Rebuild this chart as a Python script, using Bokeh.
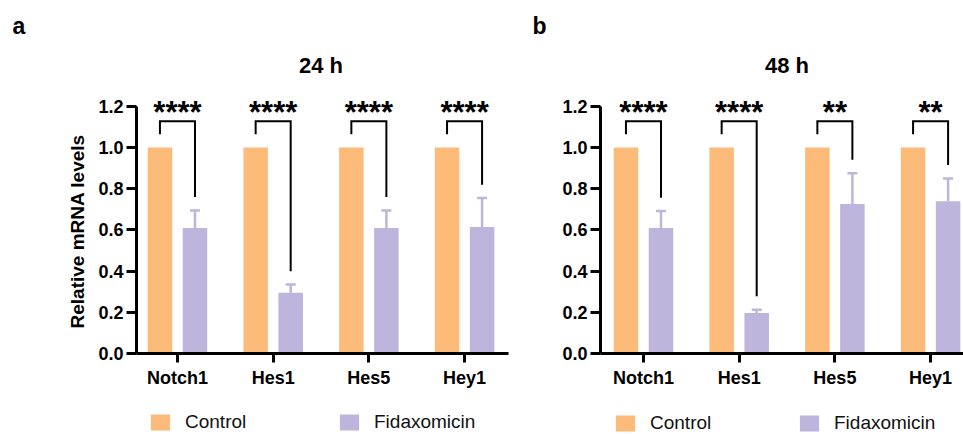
from bokeh.plotting import figure
from bokeh.models import (Range1d, FixedTicker, Legend, LegendItem, Whisker, Title,
                          TeeHead, ColumnDataSource, NumeralTickFormatter)
from bokeh.layouts import row, column
from bokeh.core.properties import value
from bokeh.embed import file_html
from bokeh.resources import INLINE

# ---------------- data ----------------
genes = ["Notch1", "Hes1", "Hes5", "Hey1"]
y_ticks = [0.0, 0.2, 0.4, 0.6, 0.8, 1.0, 1.2]
series_names = ["Control", "Fidaxomicin"]

ctrl_24 = [1.0, 1.0, 1.0, 1.0]
fida_24 = [0.61, 0.295, 0.61, 0.615]
fida_24_err = [0.085, 0.04, 0.085, 0.14]
sig_24 = ["****", "****", "****", "****"]

ctrl_48 = [1.0, 1.0, 1.0, 1.0]
fida_48 = [0.61, 0.197, 0.726, 0.74]
fida_48_err = [0.082, 0.016, 0.15, 0.11]
sig_48 = ["****", "****", "**", "**"]

# ---------------- style ----------------
CTRL = "#FDBB79"
LAV = "#BDB5DB"
FONT = "Liberation Sans"
H_MAIN = 405
H_LEG = 29
YMAX = 1.496
OFF = 0.183
BW = 0.256
BRACKET_Y = 1.128
GAP = 0.065
AST_Y = 1.173
TITLE_Y = 1.399


def make_panel(width, bl, br, xr, ctrl, fida, err, sig, title, letter, letter_off,
               with_ylabel):
    p = figure(width=width, height=H_MAIN, x_range=Range1d(*xr), y_range=Range1d(0, YMAX),
               output_backend="svg", toolbar_location=None,
               min_border_left=bl, min_border_right=br, min_border_top=45,
               min_border_bottom=52)
    p.outline_line_color = None
    p.grid.visible = False
    p.background_fill_color = "white"
    p.border_fill_color = "white"

    n = len(genes)
    xc = [i - OFF for i in range(n)]
    xf = [i + OFF for i in range(n)]
    top = [f + e for f, e in zip(fida, err)]
    src = ColumnDataSource(dict(xc=xc, xf=xf, ctrl=ctrl, fida=fida, top=top))

    p.vbar(x="xc", top="ctrl", width=BW, source=src, fill_color=CTRL, line_color=None)
    p.vbar(x="xf", top="fida", width=BW, source=src, fill_color=LAV, line_color=None)

    wh = Whisker(source=src, base="xf", upper="top", lower="fida", dimension="height",
                 line_color=LAV, line_width=2.5, lower_head=None,
                 upper_head=TeeHead(size=10, line_color=LAV, line_width=2.5))
    p.add_layout(wh)

    bxs = [[a, a, b, b] for a, b in zip(xc, xf)]
    bys = [[c + GAP, BRACKET_Y, BRACKET_Y, t + GAP] for c, t in zip(ctrl, top)]
    p.multi_line(xs=bxs, ys=bys, line_color="black", line_width=2, line_join="miter")

    p.text(x=list(range(n)), y=[AST_Y] * n, text=sig, text_align="center",
           text_baseline="middle", text_font=value(FONT), text_font_style="bold",
           text_font_size="31px", text_color="black")

    p.text(x=[1.5], y=[TITLE_Y], text=[title], text_align="center",
           text_baseline="middle", text_font=value(FONT), text_font_style="bold",
           text_font_size="22px", text_color="black")

    p.add_layout(Title(text=letter, align="left", offset=letter_off, vertical_align="bottom",
                       standoff=14, text_font=FONT, text_font_style="bold",
                       text_font_size="23px", text_color="black"), "above")

    for ax in (p.xaxis[0], p.yaxis[0]):
        ax.axis_line_width = 3
        ax.axis_line_color = "black"
        ax.major_tick_line_width = 3
        ax.major_tick_line_color = "black"
        ax.major_tick_in = 0
        ax.minor_tick_line_color = None
        ax.major_label_text_font = FONT
        ax.major_label_text_font_style = "bold"
        ax.major_label_text_font_size = "18px"
        ax.major_label_text_color = "black"

    p.xaxis.ticker = FixedTicker(ticks=list(range(n)))
    p.xaxis.major_label_overrides = {i: g for i, g in enumerate(genes)}
    p.xaxis.major_tick_out = 9
    p.xaxis.major_label_standoff = 5

    p.yaxis.ticker = FixedTicker(ticks=y_ticks)
    p.yaxis.formatter = NumeralTickFormatter(format="0.0")
    p.yaxis.bounds = (0, 1.2)
    p.yaxis.major_tick_out = 10
    p.yaxis.major_label_standoff = 3

    if with_ylabel:
        p.add_layout(Title(text="Relative mRNA levels", align="left", offset=25,
                           vertical_align="bottom", standoff=16, text_font=FONT,
                           text_font_style="bold", text_font_size="19px",
                           text_color="black"), "left")
    return p


def make_legend(width, loc, label_width):
    q = figure(width=width, height=H_LEG, x_range=Range1d(0, 1), y_range=Range1d(0, 1),
               output_backend="svg", toolbar_location=None,
               x_axis_location=None, y_axis_location=None,
               min_border=0, min_border_left=0, min_border_right=0,
               min_border_top=0, min_border_bottom=0)
    q.outline_line_color = None
    q.grid.visible = False
    # legend proxies: one zero-height bar each, placed outside the visible range
    r_c = q.vbar(x=[-5], top=[0], width=0.1, fill_color=CTRL, line_color=None)
    r_f = q.vbar(x=[-5], top=[0], width=0.1, fill_color=LAV, line_color=None)
    leg = Legend(items=[LegendItem(label=series_names[0], renderers=[r_c]),
                        LegendItem(label=series_names[1], renderers=[r_f])],
                 location=loc, orientation="horizontal", padding=0, margin=0,
                 border_line_color=None, background_fill_alpha=0,
                 glyph_width=24, glyph_height=20, label_standoff=13,
                 label_width=label_width, label_height=20, spacing=12,
                 label_text_font=FONT, label_text_font_size="19px",
                 label_text_color="#111111")
    q.add_layout(leg)
    return q


p1 = make_panel(520, 136, 12, (-0.428, 3.459), ctrl_24, fida_24, fida_24_err, sig_24,
                "24 h", "a", -124, True)
p2 = make_panel(443, 80, 0, (-0.449, 3.344), ctrl_48, fida_48, fida_48_err, sig_48,
                "48 h", "b", -68, False)
l1 = make_legend(520, (148, 1), 140)
l2 = make_legend(443, (93, 0), 135)

layout = column(row(p1, p2), row(l1, l2))
open("out.html", "w").write(file_html(layout, INLINE))
